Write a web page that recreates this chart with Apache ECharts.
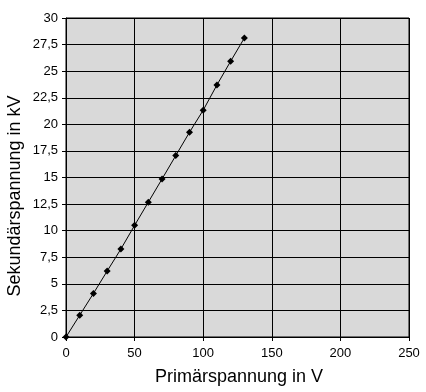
<!DOCTYPE html>
<html><head><meta charset="utf-8">
<script src="https://cdn.jsdelivr.net/npm/echarts@6/dist/echarts.min.js"></script>
<style>html,body{margin:0;padding:0;background:#fff}#c{width:426px;height:392px}</style>
</head><body><div id="c"></div>
<script>
const primaryV = [0,10,20,30,40,50,60,70,80,90,100,110,120,130];
const secondaryKV = [0,2.05,4.1,6.2,8.27,10.5,12.68,14.86,17.06,19.25,21.33,23.7,25.93,28.12];
const xTitle = 'Primärspannung in V';
const yTitle = 'Sekundärspannung in kV';

const chart = echarts.init(document.getElementById('c'));
const font = '"Liberation Sans", Arial, sans-serif';
chart.setOption({
  animation:false,
  backgroundColor:'#fff',
  grid:{left:66,right:17,top:18,bottom:55,show:true,backgroundColor:'#d9d9d9',borderColor:'#000',borderWidth:1},
  graphic:[
    {type:'text',x:239,y:377,style:{text:xTitle,font:'18px '+font,fill:'#000',textAlign:'center',textVerticalAlign:'middle'}},
    {type:'text',x:15,y:196,rotation:Math.PI/2,style:{text:yTitle,font:'18px '+font,fill:'#000',textAlign:'center',textVerticalAlign:'middle'}}
  ],
  xAxis:{type:'value',min:0,max:250,interval:50,
    axisLine:{lineStyle:{color:'#000',width:1}},
    axisTick:{show:true,length:4,lineStyle:{color:'#000'}},
    axisLabel:{fontFamily:font,fontSize:13,color:'#000',margin:10},
    splitLine:{show:true,lineStyle:{color:'#000',width:1}}},
  yAxis:{type:'value',min:0,max:30,interval:2.5,
    axisLine:{show:true,lineStyle:{color:'#000',width:1}},
    axisTick:{show:true,length:4,lineStyle:{color:'#000'}},
    axisLabel:{fontFamily:font,fontSize:13,color:'#000',margin:8,
      formatter:v=>String(v).replace('.',',')},
    splitLine:{show:true,lineStyle:{color:'#000',width:1}}},
  series:[{type:'line',data:primaryV.map((x,i)=>[x,secondaryKV[i]]),
    symbol:'diamond',symbolSize:7,
    lineStyle:{color:'#000',width:1},itemStyle:{color:'#000'}}]
});
</script></body></html>
